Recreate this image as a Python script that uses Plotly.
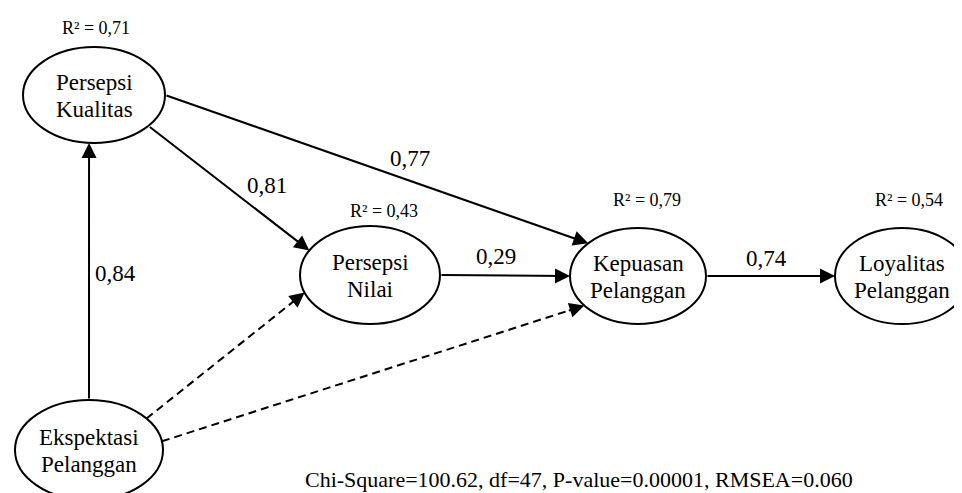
import math
import plotly.graph_objects as go

# ---------------- data ----------------
node_ids = ["PK", "EP", "PN", "KP", "LP"]
node_line1 = ["Persepsi", "Ekspektasi", "Persepsi", "Kepuasan", "Loyalitas"]
node_line2 = ["Kualitas", "Pelanggan", "Nilai", "Pelanggan", "Pelanggan"]
r_squared = [0.71, None, 0.43, 0.79, 0.54]

path_from = ["EP", "PK", "PK", "PN", "KP", "EP", "EP"]
path_to = ["PK", "PN", "KP", "KP", "LP", "PN", "KP"]
path_coef = [0.84, 0.81, 0.77, 0.29, 0.74, None, None]
path_significant = [True, True, True, True, True, False, False]

fit_names = ["Chi-Square", "df", "P-value", "RMSEA"]
fit_values = ["100.62", "47", "0.00001", "0.060"]

# ---------------- layout (positions / styles) ----------------
W, H = 962, 493
node_cx = {"PK": 86, "EP": 81, "PN": 362, "KP": 630, "LP": 894}
node_cy = {"PK": 87, "EP": 442, "PN": 267, "KP": 268, "LP": 268}
node_rx = {"PK": 71, "EP": 74, "PN": 70, "KP": 68, "LP": 67}
node_ry = {"PK": 48, "EP": 50, "PN": 49, "KP": 48, "LP": 48}
r2_pos = {"PK": (88, 20), "PN": (376, 203), "KP": (639, 192), "LP": (901, 192)}
# angles (deg) on source / target ellipse where each path starts / ends
src_angle = [-90, 40, 0, 0, 0, -39, -10]
tgt_angle = [94, -150, -137, 180, 180, 159, 142]
label_pos = [(107, 265), (259, 177), (402, 150), (488, 248), (758, 250), None, None]
footer_pos = (571, 471)

FONT = "Liberation Serif, Times New Roman, serif"
LW = 2


def ell_point(n, ang):
    a = math.radians(ang)
    return (node_cx[n] + node_rx[n] * math.cos(a), node_cy[n] + node_ry[n] * math.sin(a))


def fmt(v):
    return f"{v:.2f}".replace(".", ",")


fig = go.Figure()
shapes = []
annotations = []

# ellipses
for i, n in enumerate(node_ids):
    shapes.append(dict(type="circle", xref="x", yref="y",
                       x0=node_cx[n] - node_rx[n], x1=node_cx[n] + node_rx[n],
                       y0=node_cy[n] - node_ry[n], y1=node_cy[n] + node_ry[n],
                       line=dict(color="black", width=LW), fillcolor="white", layer="below"))
    annotations.append(dict(x=node_cx[n], y=node_cy[n] - 13, text=node_line1[i], showarrow=False,
                            xref="x", yref="y", font=dict(family=FONT, size=23, color="black")))
    annotations.append(dict(x=node_cx[n], y=node_cy[n] + 14, text=node_line2[i], showarrow=False,
                            xref="x", yref="y", font=dict(family=FONT, size=23, color="black")))
    if r_squared[i] is not None:
        px, py = r2_pos[n]
        annotations.append(dict(x=px, y=py, text="R² = " + fmt(r_squared[i]), showarrow=False,
                                xref="x", yref="y", font=dict(family=FONT, size=18, color="black")))

# paths
HEAD = 15
for k in range(len(path_from)):
    sx, sy = ell_point(path_from[k], src_angle[k])
    tx, ty = ell_point(path_to[k], tgt_angle[k])
    if path_significant[k]:
        annotations.append(dict(x=tx, y=ty, ax=sx, ay=sy, xref="x", yref="y", axref="x", ayref="y",
                                text="", showarrow=True, arrowhead=2, arrowsize=1.5, arrowwidth=LW,
                                arrowcolor="black", standoff=0, startstandoff=0))
    else:
        d = math.hypot(tx - sx, ty - sy)
        ux, uy = (tx - sx) / d, (ty - sy) / d
        mx, my = tx - ux * (HEAD + 3), ty - uy * (HEAD + 3)
        shapes.append(dict(type="line", xref="x", yref="y", x0=sx, y0=sy, x1=mx + ux * 4, y1=my + uy * 4,
                           line=dict(color="black", width=LW, dash="8px,5px")))
        annotations.append(dict(x=tx, y=ty, ax=mx, ay=my, xref="x", yref="y", axref="x", ayref="y",
                                text="", showarrow=True, arrowhead=2, arrowsize=1.5, arrowwidth=LW,
                                arrowcolor="black", standoff=0, startstandoff=0))
    if path_coef[k] is not None:
        lx, ly = label_pos[k]
        annotations.append(dict(x=lx, y=ly, text=fmt(path_coef[k]), showarrow=False,
                                xref="x", yref="y", font=dict(family=FONT, size=23, color="black")))

footer = ", ".join(f"{a}={b}" for a, b in zip(fit_names, fit_values))
annotations.append(dict(x=footer_pos[0], y=footer_pos[1], text=footer, showarrow=False,
                        xref="x", yref="y", font=dict(family=FONT, size=22, color="black")))

fig.update_layout(
    width=W, height=H, margin=dict(l=0, r=0, t=0, b=0),
    paper_bgcolor="white", plot_bgcolor="white",
    xaxis=dict(range=[0, W], visible=False, fixedrange=True),
    yaxis=dict(range=[H, 0], visible=False, fixedrange=True),
    shapes=shapes, annotations=annotations, showlegend=False,
)

fig.write_html("out.html")
